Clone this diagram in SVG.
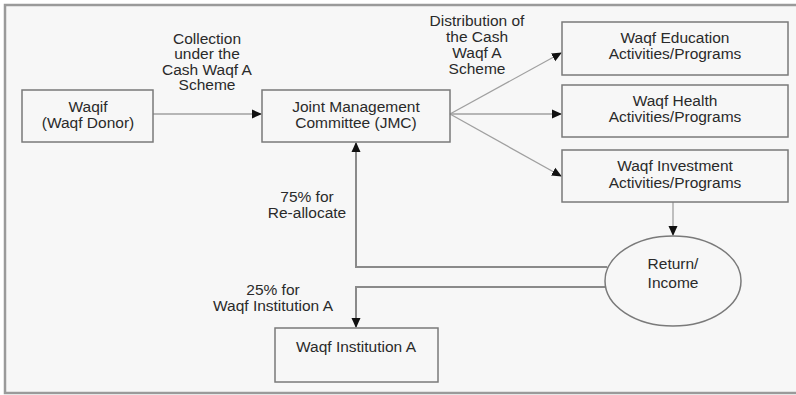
<svg xmlns="http://www.w3.org/2000/svg" width="796" height="395" viewBox="0 0 796 395">
<style>
.box{fill:none;stroke:#7a7a7a;stroke-width:1.5}
.t{font-family:"Liberation Sans",Arial,sans-serif;font-size:15.5px;fill:#2a2a2a;text-anchor:middle}
.c{fill:none;stroke:#a0a0a0;stroke-width:1.3}
.c2{fill:none;stroke:#8a8a8a;stroke-width:2}
</style>
<defs>
<marker id="ah" markerWidth="10" markerHeight="10" refX="9" refY="5" orient="auto" markerUnits="userSpaceOnUse">
<path d="M0,0.5 L10,5 L0,9.5 Z" fill="#111"/>
</marker>
</defs>
<rect x="0" y="0" width="796" height="395" fill="#fff"/>
<rect x="5" y="5" width="800" height="388" fill="#f7f7f7" stroke="#9a9a9a" stroke-width="2.5"/>
<g id="connectors">
<line class="c" x1="153" y1="114" x2="261" y2="114" marker-end="url(#ah)"/>
<line class="c" x1="450" y1="114" x2="561" y2="53" marker-end="url(#ah)"/>
<line class="c" x1="450" y1="114" x2="561" y2="114" marker-end="url(#ah)"/>
<line class="c" x1="450" y1="114" x2="561" y2="176" marker-end="url(#ah)"/>
<line class="c" x1="673" y1="202" x2="673" y2="235" marker-end="url(#ah)"/>
<polyline class="c2" points="607,267 356,267 356,143" marker-end="url(#ah)"/>
<polyline class="c2" points="606,287 356,287 356,327" marker-end="url(#ah)"/>
<g class="t">
<text x="207" y="43.5">Collection</text>
<text x="207" y="59">under the</text>
<text x="207" y="74.5">Cash Waqf A</text>
<text x="207" y="90">Scheme</text>
<text x="477" y="25.5">Distribution of</text>
<text x="477" y="41.5">the Cash</text>
<text x="477" y="57.5">Waqf A</text>
<text x="477" y="73.5">Scheme</text>
<text x="307" y="201.5">75% for</text>
<text x="307" y="218">Re-allocate</text>
<text x="273" y="295">25% for</text>
<text x="273" y="311">Waqf Institution A</text>
</g>
</g>
<g id="waqif">
<rect class="box" x="22" y="90" width="131" height="52"/>
<text class="t" x="88" y="111.5">Waqif</text>
<text class="t" x="88" y="128">(Waqf Donor)</text>
</g>
<g id="jmc">
<rect class="box" x="262" y="90" width="188" height="52"/>
<text class="t" x="356" y="111.5">Joint Management</text>
<text class="t" x="356" y="128">Committee (JMC)</text>
</g>
<g id="education">
<rect class="box" x="562" y="22" width="226" height="53"/>
<text class="t" x="675" y="42.5">Waqf Education</text>
<text class="t" x="675" y="59">Activities/Programs</text>
</g>
<g id="health">
<rect class="box" x="562" y="85" width="226" height="52"/>
<text class="t" x="675" y="105.5">Waqf Health</text>
<text class="t" x="675" y="122">Activities/Programs</text>
</g>
<g id="investment">
<rect class="box" x="562" y="150" width="226" height="52"/>
<text class="t" x="675" y="171">Waqf Investment</text>
<text class="t" x="675" y="187.5">Activities/Programs</text>
</g>
<g id="return">
<ellipse class="box" cx="673" cy="281" rx="68" ry="45"/>
<text class="t" x="673" y="269">Return/</text>
<text class="t" x="673" y="288">Income</text>
</g>
<g id="institution">
<rect class="box" x="275" y="328" width="163" height="54"/>
<text class="t" x="356" y="352">Waqf Institution A</text>
</g>
</svg>
